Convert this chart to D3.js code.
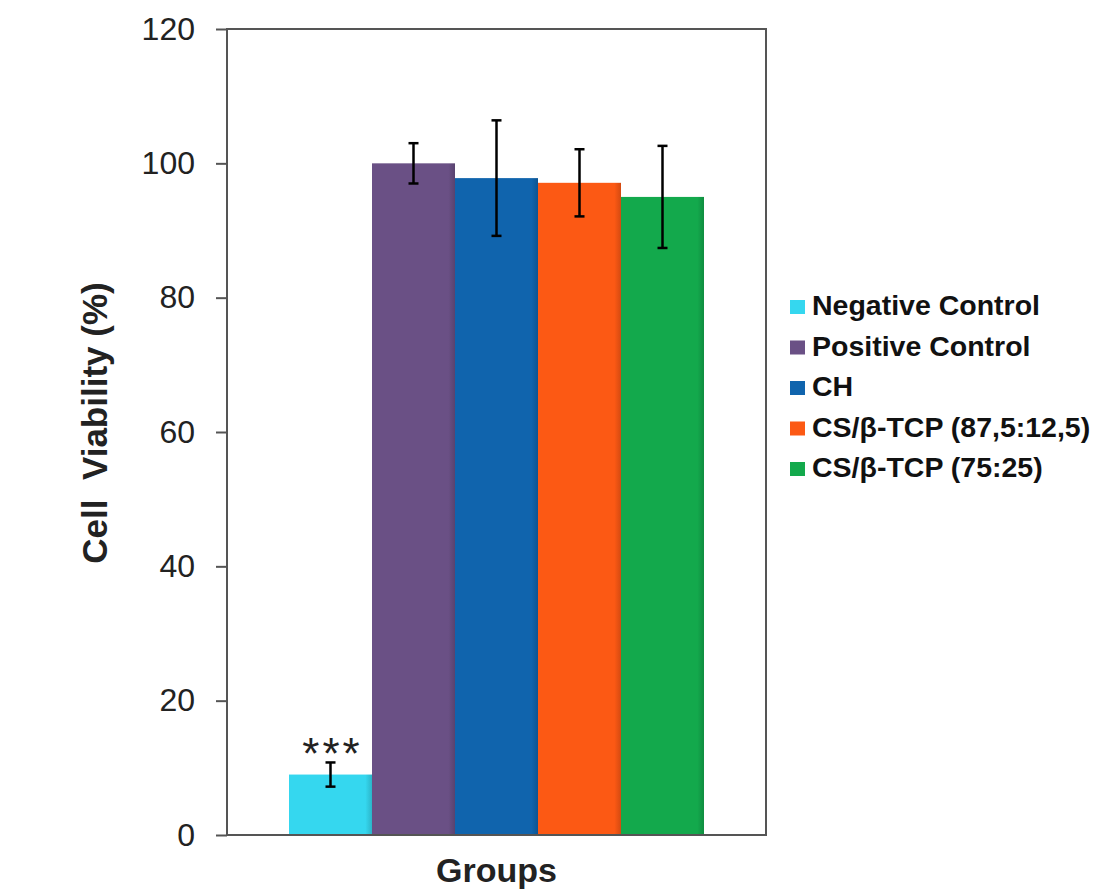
<!DOCTYPE html>
<html>
<head>
<meta charset="utf-8">
<script src="https://cdn.jsdelivr.net/npm/d3@7"></script>
<style>
  body { margin: 0; background: #fff; }
  svg { display: block; font-family: "Liberation Sans", Arial, sans-serif; }
</style>
</head>
<body>
<svg id="chart" width="1094" height="892"></svg>
<script>
const groups = ["Negative Control", "Positive Control", "CH", "CS/β-TCP (87,5:12,5)", "CS/β-TCP (75:25)"];
const viability = [9, 100, 97.8, 97.1, 95.0];
const errors = [1.8, 3.0, 8.6, 5.0, 7.6];
const colors = ["#35d7ef", "#6a5085", "#1064ad", "#fc5914", "#13a94c"];
const yTicks = [0, 20, 40, 60, 80, 100, 120];

const svg = d3.select("#chart");
const plotLeft = 227, plotRight = 766, plotTop = 29, plotBottom = 835;

const y = d3.scaleLinear().domain([0, 120]).range([plotBottom, plotTop]);
const x = d3.scaleBand().domain(groups).range([289, 704]).padding(0);

const defs = svg.append("defs");
colors.forEach((c, i) => {
  const g = defs.append("linearGradient").attr("id", `grad${i}`)
    .attr("x1", 0).attr("x2", 1).attr("y1", 0).attr("y2", 0);
  g.append("stop").attr("offset", "0%").attr("stop-color", c);
  g.append("stop").attr("offset", "92%").attr("stop-color", c);
  g.append("stop").attr("offset", "100%").attr("stop-color", d3.color(c).darker(0.5));
});

// bars
svg.append("g").selectAll("rect")
  .data(groups)
  .join("rect")
  .attr("x", d => x(d))
  .attr("y", (d, i) => y(viability[i]))
  .attr("width", x.bandwidth())
  .attr("height", (d, i) => y(0) - y(viability[i]))
  .attr("fill", (d, i) => `url(#grad${i})`);

// error bars
const eb = svg.append("g").attr("stroke", "#000").attr("stroke-width", 2.5);
groups.forEach((d, i) => {
  const cx = x(d) + x.bandwidth() / 2;
  const hi = y(viability[i] + errors[i]), lo = y(viability[i] - errors[i]);
  eb.append("line").attr("x1", cx).attr("x2", cx).attr("y1", hi).attr("y2", lo);
  eb.append("line").attr("x1", cx - 5).attr("x2", cx + 5).attr("y1", hi).attr("y2", hi);
  eb.append("line").attr("x1", cx - 5).attr("x2", cx + 5).attr("y1", lo).attr("y2", lo);
});

// significance marker
svg.append("text")
  .attr("x", x(groups[0]) + x.bandwidth() / 2)
  .attr("dx", 2)
  .attr("y", y(viability[0] + errors[0]) + 7)
  .attr("text-anchor", "middle")
  .attr("font-size", 44)
  .attr("letter-spacing", 3)
  .attr("fill", "#222")
  .text("***");

// frame
svg.append("rect")
  .attr("x", plotLeft).attr("y", plotTop)
  .attr("width", plotRight - plotLeft).attr("height", plotBottom - plotTop)
  .attr("fill", "none").attr("stroke", "#555").attr("stroke-width", 2);

// y axis
const yAxis = svg.append("g")
  .attr("transform", `translate(${plotLeft},0)`)
  .call(d3.axisLeft(y).tickValues(yTicks).tickSize(11).tickPadding(21));
yAxis.select(".domain").remove();
yAxis.selectAll("line").attr("stroke", "#555").attr("stroke-width", 2);
yAxis.selectAll("text")
  .attr("font-size", 32)
  .attr("fill", "#222")
  .attr("font-family", "Liberation Sans, Arial, sans-serif");

// axis titles
svg.append("text")
  .attr("transform", `translate(107,${(283 + 563) / 2}) rotate(-90)`)
  .attr("text-anchor", "middle")
  .attr("font-size", 35)
  .attr("font-weight", "bold")
  .attr("fill", "#222")
  .attr("xml:space", "preserve")
  .text("Cell  Viability (%)");

svg.append("text")
  .attr("x", (plotLeft + plotRight) / 2)
  .attr("y", 882)
  .attr("text-anchor", "middle")
  .attr("font-size", 34)
  .attr("font-weight", "bold")
  .attr("fill", "#222")
  .text("Groups");

// legend
const legend = svg.append("g").attr("transform", "translate(790,315)");
groups.forEach((d, i) => {
  const row = legend.append("g").attr("transform", `translate(0,${i * 40.5})`);
  row.append("rect").attr("x", 0).attr("y", -15).attr("width", 15).attr("height", 14)
    .attr("fill", colors[i]);
  row.append("text").attr("x", 22).attr("y", 0)
    .attr("font-size", 28.5).attr("font-weight", "bold").attr("fill", "#111")
    .text(d);
});
</script>
</body>
</html>
